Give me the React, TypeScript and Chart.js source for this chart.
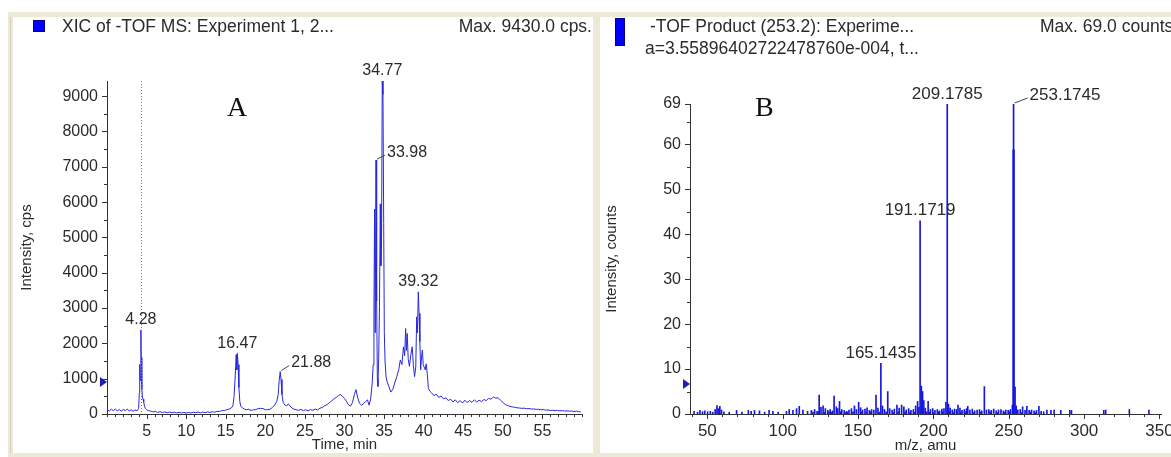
import React, { useEffect, useRef } from "react";
import { Chart, registerables } from "chart.js";

Chart.register(...registerables);

const SANS = "'Liberation Sans', Arial, sans-serif";
const SERIF = "'Liberation Serif', 'Times New Roman', serif";
const TEXT = "#2b2b2b";
const AXIS = "#333333";
const TRACE = "#2828dc";
const STICK = "#1616e4";
const FRAME = "#ece9d8";

// ---------------- Panel A: XIC chromatogram ----------------
const timeMin = [
  0.05, 0.3, 0.55, 0.8, 1.05, 1.3, 1.55, 1.8, 2.05, 2.3, 2.55, 2.8, 3.05, 3.3, 3.55, 3.8,
  4.0, 4.08, 4.13, 4.19, 4.28, 4.34, 4.4, 4.48, 4.56, 4.64, 4.74, 4.86, 5.0, 5.25, 5.5, 5.8,
  6.1, 6.4, 6.7, 7.0, 7.3, 7.6, 7.9, 8.2, 8.5, 8.8, 9.1, 9.4, 9.7, 10.0, 10.3, 10.6, 10.9,
  11.2, 11.5, 11.8, 12.1, 12.4, 12.7, 13.0, 13.3, 13.6, 13.9, 14.2, 14.5, 14.8, 15.1, 15.4,
  15.7, 15.9, 16.05, 16.2, 16.32, 16.4, 16.47, 16.56, 16.66, 16.78, 16.9, 17.1, 17.35, 17.6,
  17.9, 18.2, 18.5, 18.8, 19.1, 19.4, 19.7, 20.0, 20.3, 20.6, 20.9, 21.2, 21.45, 21.62, 21.75,
  21.88, 21.98, 22.1, 22.25, 22.45, 22.7, 22.9, 23.1, 23.35, 23.6, 23.9, 24.2, 24.5, 24.8,
  25.1, 25.4, 25.7, 26.0, 26.3, 26.6, 26.9, 27.2, 27.5, 27.8, 28.1, 28.4, 28.7, 29.0, 29.25,
  29.5, 29.75, 30.0, 30.25, 30.5, 30.75, 31.0, 31.25, 31.45, 31.65, 31.9, 32.15, 32.4, 32.65,
  32.9, 33.1, 33.3, 33.5, 33.62, 33.72, 33.8, 33.88, 33.98, 34.06, 34.15, 34.22, 34.32, 34.42,
  34.52, 34.6, 34.68, 34.77, 34.86, 34.95, 35.03, 35.12, 35.25, 35.4, 35.6, 35.85, 36.1, 36.35,
  36.6, 36.85, 37.05, 37.25, 37.45, 37.6, 37.72, 37.82, 37.92, 38.05, 38.2, 38.38, 38.55, 38.7,
  38.85, 39.0, 39.12, 39.22, 39.32, 39.42, 39.52, 39.62, 39.74, 39.84, 39.94, 40.06, 40.2,
  40.32, 40.45, 40.6, 40.8, 41.0, 41.3, 41.6, 41.9, 42.2, 42.5, 42.8, 43.1, 43.4, 43.7, 44.0,
  44.3, 44.6, 44.9, 45.2, 45.5, 45.8, 46.1, 46.4, 46.7, 47.0, 47.3, 47.6, 47.9, 48.2, 48.5,
  48.8, 49.1, 49.4, 49.7, 50.0, 50.3, 50.6, 50.9, 51.2, 51.5, 51.8, 52.1, 52.4, 52.7, 53.0,
  53.3, 53.6, 53.9, 54.2, 54.5, 54.8, 55.1, 55.4, 55.7, 56.0, 56.3, 56.6, 56.9, 57.2, 57.5,
  57.8, 58.1, 58.4, 58.7, 59.0, 59.3, 59.6, 59.85,
];
const intensityCps = [
  120, 85, 135, 95, 140, 90, 125, 80, 130, 95, 140, 85, 120, 75, 115, 90,
  160, 600, 1400, 950, 2380, 1600, 700, 480, 420, 330, 220, 150, 120, 90, 85, 60,
  75, 45, 65, 40, 60, 35, 55, 35, 50, 30, 50, 30, 45, 25, 45, 30, 50,
  35, 55, 35, 55, 40, 60, 45, 65, 50, 75, 70, 95, 95, 120, 135,
  170, 230, 500, 1100, 1680, 1250, 1717, 1400, 750, 350, 220, 170, 140, 120,
  135, 100, 120, 125, 155, 160, 155, 120, 125, 135, 185, 260, 360, 550, 950,
  1200, 980, 550, 330, 260, 230, 290, 230, 170, 140, 120, 105, 130, 95,
  120, 90, 125, 105, 140, 115, 165, 185, 235, 265, 325, 375, 435, 475, 525,
  550, 500, 440, 360, 260, 220, 320, 550, 690, 480, 300, 250, 290, 350,
  400, 250, 420, 880, 1400, 2950, 5800, 2300, 7190, 3200, 1000, 780, 1600, 3050,
  5950, 4200, 5000, 9430, 9050, 5400, 2300, 1500, 1050, 900, 780, 620, 700, 880,
  1060, 1250, 1530, 1400, 1900, 1650, 2420, 1800, 2280, 1550, 1350, 1680, 1900, 1380,
  1060, 1330, 2750, 2300, 3460, 2850, 2050, 1250, 1650, 1810, 1400, 1330, 1250,
  1420, 1150, 720, 640, 600, 520, 560, 470, 510, 430, 460, 380, 420, 340, 400,
  320, 380, 310, 390, 320, 380, 330, 400, 340, 390, 350, 410, 380, 440, 420,
  480, 450, 460, 390, 330, 270, 240, 215, 200, 190, 175, 170, 160, 165, 150,
  155, 140, 145, 130, 135, 120, 125, 110, 115, 100, 105, 95, 100, 90, 95,
  85, 90, 80, 85, 70, 80, 65, 60,
];
const xicPeakTimes = [4.28, 16.47, 21.88, 33.98, 34.77, 39.32];
const xicPeakHeights = [2380, 1717, 1200, 7190, 9430, 3460];
const xicTimeTicks = [5, 10, 15, 20, 25, 30, 35, 40, 45, 50, 55];
const xicIntensityTicks = [0, 1000, 2000, 3000, 4000, 5000, 6000, 7000, 8000, 9000];
const xicMaxCps = 9430;
const xicThreshold = 906;
const xicCursorTime = 4.28;

// ---------------- Panel B: product ion spectrum ----------------
const mzValues = [
  41.2, 43.5, 45.1, 46.8, 48.3, 50.2, 52.0, 53.6, 55.2, 56.4, 57.3, 58.3, 59.4, 61.0, 64.5,
  69.4, 73.0, 77.2, 79.1, 81.3, 84.6, 88.0, 91.0, 93.5, 97.0, 102.5, 104.3, 106.8, 109.2,
  111.0, 113.4, 116.5, 119.0, 121.2, 122.8, 124.2, 125.4, 126.8, 128.3, 129.9, 131.5, 133.1,
  134.1, 135.6, 136.5, 137.7, 139.2, 140.8, 142.4, 144.0, 145.6, 147.6, 148.9, 150.4, 151.7,
  153.0, 154.6, 156.0, 157.5, 159.0, 160.5, 161.9, 163.2, 165.1435, 166.2, 167.5, 169.7,
  171.0, 172.6, 174.1, 175.8, 177.3, 178.9, 180.4, 182.0, 183.6, 185.1, 186.7, 188.2, 189.5,
  190.4, 191.1719, 192.0, 192.8, 193.6, 194.6, 196.5, 198.0, 199.5, 201.0, 202.6, 204.1,
  205.6, 207.0, 208.3, 209.1785, 210.0, 211.1, 212.5, 214.0, 215.4, 216.3, 217.6, 219.0,
  220.5, 222.0, 222.8, 224.2, 225.8, 227.4, 229.0, 230.6, 232.1, 233.8, 235.2, 236.8, 238.4,
  240.0, 241.6, 243.2, 244.8, 246.4, 248.0, 249.6, 251.1, 252.4, 252.95, 253.1745, 253.45,
  254.17, 254.9, 256.0, 257.6, 259.2, 260.8, 262.0, 263.5, 265.1, 266.8, 268.4, 270.0, 271.5,
  273.2, 275.3, 278.0, 280.1, 284.5, 290.5, 291.6, 313.0, 314.3, 330.0, 343.0,
];
const countValues = [
  0.6, 0.4, 0.8, 0.5, 0.7, 0.5, 0.6, 0.4, 1.0, 1.9, 1.2, 1.7, 0.9, 0.5, 0.4,
  0.8, 0.4, 0.8, 0.6, 0.8, 0.7, 0.4, 0.8, 0.6, 0.4, 0.6, 1.0, 0.8, 1.2,
  1.7, 0.9, 0.6, 0.8, 1.0, 0.6, 4.2, 1.5, 1.8, 1.2, 0.8, 1.0, 0.7,
  4.0, 1.6, 1.2, 2.8, 1.0, 0.8, 0.6, 0.9, 1.2, 1.8, 1.0, 2.6, 1.4,
  0.9, 1.1, 1.4, 0.8, 1.0, 0.9, 4.2, 1.3, 11.3, 1.8, 1.0, 5.0,
  1.2, 0.9, 1.1, 2.0, 1.3, 2.0, 1.6, 0.9, 1.2, 0.8, 1.0, 1.8, 2.8,
  1.5, 43.0, 6.2, 5.0, 3.0, 1.3, 2.8, 1.0, 1.2, 0.8, 1.0, 0.7,
  1.1, 1.2, 2.6, 69.0, 2.2, 1.3, 0.9, 1.1, 1.0, 2.0, 1.3, 0.8,
  1.0, 1.2, 1.7, 0.9, 1.1, 0.7, 0.9, 1.0, 0.7, 6.1, 0.9, 1.0, 0.8,
  1.1, 0.7, 0.9, 1.0, 0.7, 0.9, 0.8, 1.0, 2.0, 58.8, 69.0, 58.8,
  6.0, 1.8, 0.9, 1.0, 1.6, 0.8, 1.7, 0.8, 0.9, 0.7, 0.8, 1.7, 0.6,
  0.5, 0.9, 0.8, 0.9, 0.8, 0.8, 0.8, 0.8, 0.9, 1.0, 0.9,
];
// low-level noise sticks that fill the baseline between the listed ions
const noiseMz = [
  120.1, 123.5, 127.5, 130.7, 132.3, 138.4, 141.6, 143.2, 146.6, 152.3, 155.3, 158.2, 164.0,
  168.6, 173.3, 176.5, 181.2, 184.3, 187.4, 195.5, 197.2, 200.2, 203.3, 206.3, 210.7, 213.2,
  218.3, 221.2, 226.6, 231.3, 237.6, 242.4, 247.2, 250.3, 255.5, 258.4, 264.3, 267.6,
];
const noiseCounts = [
  0.4, 0.5, 0.3, 0.5, 0.4, 0.5, 0.3, 0.4, 0.5, 0.4, 0.3, 0.5, 0.4,
  0.5, 0.3, 0.4, 0.5, 0.3, 0.4, 0.5, 0.4, 0.3, 0.5, 0.4, 0.5, 0.3,
  0.4, 0.5, 0.3, 0.4, 0.5, 0.3, 0.4, 0.5, 0.4, 0.3, 0.4, 0.3,
];
const msPeakMz = [165.1435, 191.1719, 209.1785, 253.1745];
const msPeakCounts = [11.3, 43.0, 69.0, 69.0];
const mzTicks = [50, 100, 150, 200, 250, 300, 350];
const countTicks = [0, 10, 20, 30, 40, 50, 60, 69];
const msMaxCounts = 69;
const msThreshold = 6.7;

// labels whose text sits to the right of a short leader line
const leaderLabels: Record<string, [number, number]> = {
  "21.88": [11, 9],
  "33.98": [11, 8],
  "253.1745": [16, 9],
};

type PeakLabel = { x: number; y: number; text: string };
type Decor = {
  xMajor: number[];
  xMinor: number[];
  yMajor: number[];
  yMinor: number[];
  threshold: number;
  cursor?: number;
  labels: PeakLabel[];
  labelFont: string;
};

function steps(from: number, to: number, step: number): number[] {
  const out: number[] = [];
  for (let v = from; v <= to + 1e-9; v += step) out.push(Math.round(v * 1000) / 1000);
  return out;
}

function decorations(d: Decor) {
  return {
    id: "decor",
    afterDraw(chart: any) {
      const { ctx, chartArea: a, scales } = chart;
      const xs = scales.x;
      const ys = scales.y;
      ctx.save();
      if (d.cursor !== undefined) {
        const cx = Math.round(xs.getPixelForValue(d.cursor)) + 0.5;
        ctx.strokeStyle = "#7a7a7a";
        ctx.lineWidth = 1;
        ctx.setLineDash([1, 2]);
        ctx.beginPath();
        ctx.moveTo(cx, a.top);
        ctx.lineTo(cx, a.bottom);
        ctx.stroke();
        ctx.setLineDash([]);
      }
      ctx.strokeStyle = AXIS;
      ctx.lineWidth = 1;
      ctx.beginPath();
      for (const v of d.xMinor) {
        const px = Math.round(xs.getPixelForValue(v)) + 0.5;
        const len = d.xMajor.includes(v) ? 5 : 3;
        ctx.moveTo(px, Math.round(a.bottom));
        ctx.lineTo(px, Math.round(a.bottom) + len);
      }
      for (const v of d.yMinor) {
        const py = Math.round(ys.getPixelForValue(v)) + 0.5;
        const len = d.yMajor.includes(v) ? 5 : 3;
        ctx.moveTo(Math.round(a.left), py);
        ctx.lineTo(Math.round(a.left) - len, py);
      }
      ctx.stroke();
      const ty = ys.getPixelForValue(d.threshold);
      ctx.fillStyle = "#1e1eb4";
      ctx.beginPath();
      ctx.moveTo(a.left, ty);
      ctx.lineTo(a.left - 7, ty - 5);
      ctx.lineTo(a.left - 7, ty + 5);
      ctx.closePath();
      ctx.fill();
      ctx.font = d.labelFont;
      ctx.fillStyle = TEXT;
      ctx.textBaseline = "middle";
      for (const l of d.labels) {
        const px = xs.getPixelForValue(l.x);
        const py = ys.getPixelForValue(l.y);
        const lead = leaderLabels[l.text];
        if (lead) {
          const [dx, dy] = lead;
          ctx.strokeStyle = "#444";
          ctx.beginPath();
          ctx.moveTo(px + 1, py - 1);
          ctx.lineTo(px + dx - 2, py - dy + 3);
          ctx.stroke();
          ctx.textAlign = "left";
          ctx.fillText(l.text, px + dx, py - dy);
        } else {
          ctx.textAlign = "center";
          ctx.fillText(l.text, px, py - 10);
        }
      }
      ctx.restore();
    },
  };
}

const axisCommon = {
  grid: { display: false, drawTicks: false },
  border: { display: true, color: AXIS, width: 1 },
};

function xicConfig(): any {
  return {
    type: "line",
    data: {
      datasets: [
        {
          data: timeMin.map((t, i) => ({ x: t, y: intensityCps[i] })),
          borderColor: TRACE,
          borderWidth: 1,
          pointRadius: 0,
          tension: 0,
          fill: false,
        },
      ],
    },
    options: {
      responsive: false,
      animation: false,
      devicePixelRatio: 1,
      layout: { padding: { left: 0, right: 11, top: 64, bottom: 0 } },
      plugins: { legend: { display: false }, tooltip: { enabled: false } },
      scales: {
        x: {
          type: "linear",
          min: 0,
          max: 60,
          afterBuildTicks: (s: any) => {
            s.ticks = xicTimeTicks.map((v) => ({ value: v }));
          },
          afterFit: (s: any) => {
            s.height = 39;
          },
          ...axisCommon,
          ticks: {
            font: { family: SANS, size: 16 },
            color: TEXT,
            padding: 8,
            maxRotation: 0,
            autoSkip: false,
            callback: (v: any) => String(v),
          },
          title: {
            display: true,
            text: "Time, min",
            font: { family: SANS, size: 15, lineHeight: 1.1 },
            color: TEXT,
            padding: { top: 0, bottom: 0 },
          },
        },
        y: {
          type: "linear",
          min: 0,
          max: xicMaxCps,
          afterBuildTicks: (s: any) => {
            s.ticks = xicIntensityTicks.map((v) => ({ value: v }));
          },
          afterFit: (s: any) => {
            s.width = 94;
          },
          ...axisCommon,
          ticks: {
            font: { family: SANS, size: 16 },
            color: TEXT,
            padding: 9,
            autoSkip: false,
            callback: (v: any) => String(v),
          },
          title: {
            display: true,
            text: "Intensity, cps",
            font: { family: SANS, size: 15, lineHeight: 1.2 },
            color: TEXT,
            padding: { top: 5, bottom: 0 },
          },
        },
      },
    },
    plugins: [
      decorations({
        xMajor: xicTimeTicks,
        xMinor: steps(0, 60, 1),
        yMajor: xicIntensityTicks,
        yMinor: steps(0, 9000, 500),
        threshold: xicThreshold,
        cursor: xicCursorTime,
        labels: xicPeakTimes.map((t, i) => ({ x: t, y: xicPeakHeights[i], text: t.toFixed(2) })),
        labelFont: `16px ${SANS}`,
      }),
    ],
  };
}

function msConfig(): any {
  return {
    type: "bar",
    data: {
      datasets: [
        {
          data: noiseMz.map((m, i) => ({ x: m, y: noiseCounts[i] })),
          backgroundColor: STICK,
          borderWidth: 0,
          barThickness: 1,
          grouped: false,
        },
        {
          data: mzValues.map((m, i) => ({ x: m, y: countValues[i] })),
          backgroundColor: STICK,
          borderWidth: 0,
          barThickness: 1,
          grouped: false,
        },
      ],
    },
    options: {
      responsive: false,
      animation: false,
      devicePixelRatio: 1,
      layout: { padding: { left: 0, right: 29, top: 87, bottom: 0 } },
      plugins: { legend: { display: false }, tooltip: { enabled: false } },
      scales: {
        x: {
          type: "linear",
          min: 38.5,
          max: 351,
          offset: false,
          afterBuildTicks: (s: any) => {
            s.ticks = mzTicks.map((v) => ({ value: v }));
          },
          afterFit: (s: any) => {
            s.height = 39;
          },
          ...axisCommon,
          ticks: {
            font: { family: SANS, size: 17 },
            color: TEXT,
            padding: 7,
            maxRotation: 0,
            autoSkip: false,
            callback: (v: any) => String(v),
          },
          title: {
            display: true,
            text: "m/z, amu",
            font: { family: SANS, size: 15, lineHeight: 1.0 },
            color: TEXT,
            padding: { top: 0, bottom: 0 },
          },
        },
        y: {
          type: "linear",
          min: 0,
          max: msMaxCounts,
          afterBuildTicks: (s: any) => {
            s.ticks = countTicks.map((v) => ({ value: v }));
          },
          afterFit: (s: any) => {
            s.width = 90;
          },
          ...axisCommon,
          ticks: {
            font: { family: SANS, size: 16 },
            color: TEXT,
            padding: 9,
            autoSkip: false,
            callback: (v: any) => String(v),
          },
          title: {
            display: true,
            text: "Intensity, counts",
            font: { family: SANS, size: 15, lineHeight: 1.2 },
            color: TEXT,
            padding: { top: 3, bottom: 0 },
          },
        },
      },
    },
    plugins: [
      decorations({
        xMajor: mzTicks,
        xMinor: steps(40, 350, 10),
        yMajor: countTicks,
        yMinor: [...steps(0, 65, 5), 69],
        threshold: msThreshold,
        labels: msPeakMz.map((m, i) => ({ x: m, y: msPeakCounts[i], text: m.toFixed(4) })),
        labelFont: `17px ${SANS}`,
      }),
    ],
  };
}

function ChartCanvas(props: { make: () => any; left: number; top: number; width: number; height: number }) {
  const ref = useRef<HTMLCanvasElement | null>(null);
  useEffect(() => {
    const chart = new Chart(ref.current as HTMLCanvasElement, props.make());
    return () => chart.destroy();
  }, []);
  return (
    <canvas
      ref={ref}
      width={props.width}
      height={props.height}
      style={{ position: "absolute", left: props.left, top: props.top, width: props.width, height: props.height }}
    />
  );
}

const headText: React.CSSProperties = {
  position: "absolute",
  fontFamily: SANS,
  fontSize: "17.5px",
  lineHeight: "18px",
  color: TEXT,
  whiteSpace: "nowrap",
};

export default function App() {
  return (
    <div
      style={{
        position: "absolute",
        left: 0,
        top: 0,
        width: 1171,
        height: 457,
        overflow: "hidden",
        background: "#ffffff",
      }}
    >
      <div style={{ position: "absolute", left: 8, top: 12, width: 1163, height: 5, background: FRAME }} />
      <div style={{ position: "absolute", left: 8, top: 12, width: 5, height: 445, background: FRAME }} />
      <div style={{ position: "absolute", left: 10, top: 17, width: 1, height: 440, background: "#d3d0c4" }} />
      <div style={{ position: "absolute", left: 593, top: 12, width: 7, height: 445, background: FRAME }} />
      <div style={{ position: "absolute", left: 8, top: 453, width: 1163, height: 4, background: FRAME }} />

      <ChartCanvas make={xicConfig} left={13} top={17} width={580} height={436} />
      <ChartCanvas make={msConfig} left={600} top={17} width={590} height={436} />

      <div
        style={{
          position: "absolute",
          left: 33,
          top: 20,
          width: 12,
          height: 12,
          background: "#0000ff",
          boxShadow: "inset 0 0 0 1px #00008a",
        }}
      />
      <div style={{ ...headText, left: 62, top: 17 }}>XIC of -TOF MS: Experiment 1, 2...</div>
      <div style={{ ...headText, left: 392, top: 17, width: 200, textAlign: "right" }}>Max. 9430.0 cps.</div>

      <div
        style={{
          position: "absolute",
          left: 615,
          top: 18,
          width: 10,
          height: 28,
          background: "#0000ff",
          boxShadow: "inset 0 0 0 1px #00008a",
        }}
      />
      <div style={{ ...headText, left: 650, top: 17 }}>-TOF Product (253.2): Experime...</div>
      <div style={{ ...headText, left: 645, top: 39 }}>a=3.55896402722478760e-004, t...</div>
      <div style={{ ...headText, left: 1040, top: 17 }}>Max. 69.0 counts</div>

      <div
        style={{
          position: "absolute",
          left: 227,
          top: 93,
          fontFamily: SERIF,
          fontSize: "28px",
          lineHeight: "28px",
          color: "#111",
        }}
      >
        A
      </div>
      <div
        style={{
          position: "absolute",
          left: 755,
          top: 93,
          fontFamily: SERIF,
          fontSize: "28px",
          lineHeight: "28px",
          color: "#111",
        }}
      >
        B
      </div>
    </div>
  );
}
